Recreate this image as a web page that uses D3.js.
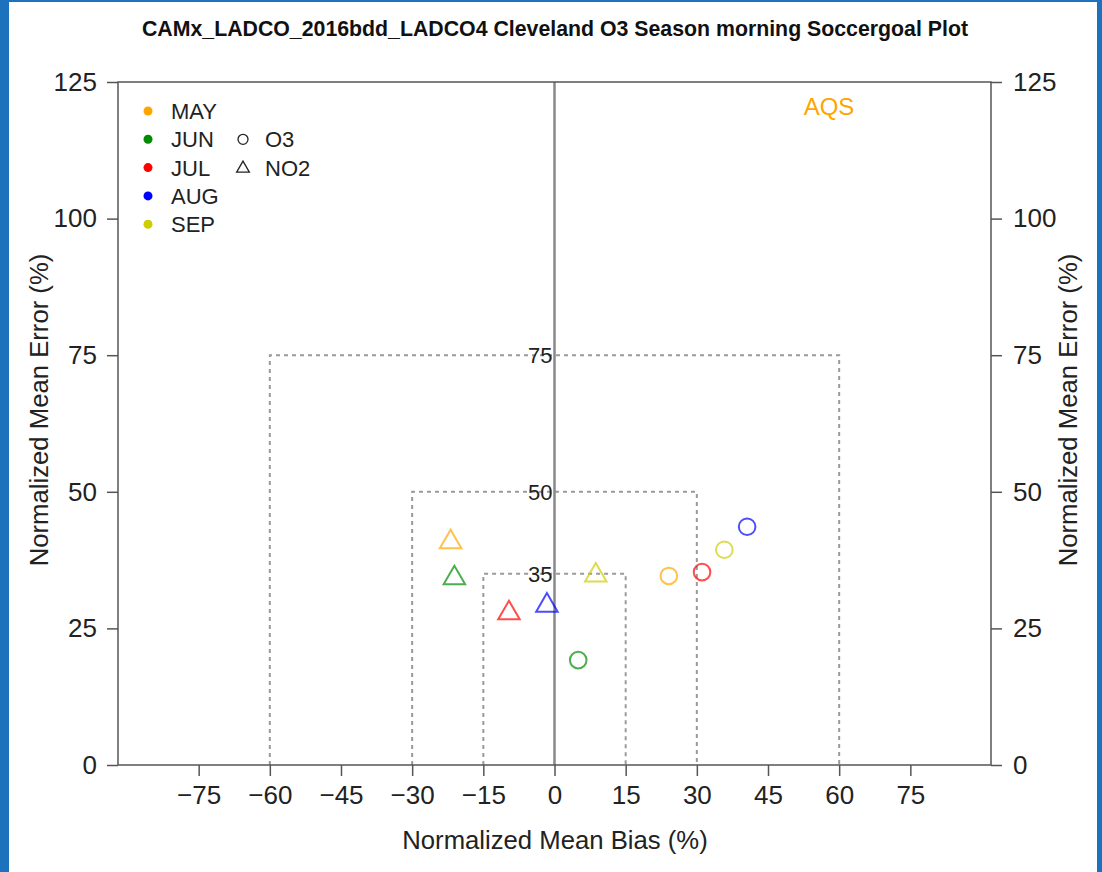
<!DOCTYPE html>
<html>
<head>
<meta charset="utf-8">
<script src="https://d3js.org/d3.v7.min.js"></script>
<style>
  body { margin: 0; background: #fff; }
  text { font-family: "Liberation Sans", Arial, sans-serif; }
</style>
</head>
<body>
<div id="chart"></div>
<script>
// months and colours
var months = ["MAY", "JUN", "JUL", "AUG", "SEP"];
var monthColors = ["#FFA500", "#008B00", "#FF0000", "#0000FF", "#CDCD00"];

// O3 (circles) and NO2 (triangles) per month
var o3Bias  = [24.1, 5.0, 31.1, 40.6, 35.8];
var o3Error = [34.6, 19.2, 35.3, 43.6, 39.4];
var no2Bias  = [-21.9, -21.1, -9.6, -1.6, 8.7];
var no2Error = [40.8, 34.2, 27.8, 29.2, 34.7];

// soccer goals
var goalError = [75, 50, 35];
var goalBias  = [60, 30, 15];

var xTicks = [-75, -60, -45, -30, -15, 0, 15, 30, 45, 60, 75];
var yTicks = [0, 25, 50, 75, 100, 125];

var species = ["O3", "NO2"];

function init() {
  var w = 1102, h = 872;
  var left = 118, right = 991, top = 82, bottom = 765;

  var svg = d3.select("#chart").append("svg")
    .attr("width", w)
    .attr("height", h);

  // blue frame of the screenshot
  svg.append("rect").attr("x", 0).attr("y", 0).attr("width", 9).attr("height", h).attr("fill", "#1c72bd");
  svg.append("rect").attr("x", 1097).attr("y", 0).attr("width", 5).attr("height", h).attr("fill", "#1c72bd");
  svg.append("rect").attr("x", 0).attr("y", 0).attr("width", w).attr("height", 2).attr("fill", "#1c72bd");

  var x = d3.scaleLinear().domain([-92, 92]).range([left, right]);
  var y = d3.scaleLinear().domain([0, 125]).range([bottom, top]);

  // title
  svg.append("text")
    .attr("x", 555).attr("y", 36)
    .attr("text-anchor", "middle")
    .attr("font-size", "21.3px")
    .attr("font-weight", "bold")
    .attr("fill", "#111")
    .text("CAMx_LADCO_2016bdd_LADCO4 Cleveland O3 Season morning Soccergoal Plot");

  // goals (dashed boxes)
  for (var i = 0; i < goalError.length; i++) {
    svg.append("path")
      .attr("d", "M" + x(-goalBias[i]) + "," + y(0) +
                 "V" + y(goalError[i]) +
                 "H" + x(goalBias[i]) +
                 "V" + y(0))
      .attr("fill", "none")
      .attr("stroke", "#9a9a9a")
      .attr("stroke-width", 2)
      .attr("stroke-dasharray", "4,4");
    svg.append("text")
      .attr("x", x(0) - 2)
      .attr("y", y(goalError[i]) + 8)
      .attr("text-anchor", "end")
      .attr("font-size", "22px")
      .attr("fill", "#222")
      .text(goalError[i]);
  }

  // centre line
  svg.append("line")
    .attr("x1", x(0)).attr("x2", x(0))
    .attr("y1", y(0)).attr("y2", y(125))
    .attr("stroke", "#888")
    .attr("stroke-width", 2.5);

  // axes
  var axisColor = "#555";
  var gx = svg.append("g").attr("transform", "translate(0," + bottom + ")")
    .call(d3.axisBottom(x).tickValues(xTicks).tickSize(11).tickPadding(7)
      .tickFormat(function(d) { return d < 0 ? "\u2212" + Math.abs(d) : d; }));
  var gl = svg.append("g").attr("transform", "translate(" + left + ",0)")
    .call(d3.axisLeft(y).tickValues(yTicks).tickSize(11).tickPadding(10));
  var gr = svg.append("g").attr("transform", "translate(" + right + ",0)")
    .call(d3.axisRight(y).tickValues(yTicks).tickSize(11).tickPadding(11));
  [gx, gl, gr].forEach(function(g) {
    g.select(".domain").remove();
    g.selectAll("line").attr("stroke", axisColor).attr("stroke-width", 1.5);
    g.selectAll("text").attr("font-size", "26px").attr("fill", "#222")
      .attr("font-family", "Liberation Sans, Arial, sans-serif");
  });
  gx.selectAll("text").attr("dy", "0.8em");

  svg.append("rect")
    .attr("x", left).attr("y", top)
    .attr("width", right - left).attr("height", bottom - top)
    .attr("fill", "none")
    .attr("stroke", axisColor)
    .attr("stroke-width", 1.5);

  // axis titles
  svg.append("text")
    .attr("x", 555).attr("y", 849)
    .attr("text-anchor", "middle")
    .attr("font-size", "25.7px").attr("fill", "#222")
    .text("Normalized Mean Bias (%)");
  svg.append("text")
    .attr("transform", "translate(48," + 410 + ") rotate(-90)")
    .attr("text-anchor", "middle")
    .attr("font-size", "25.7px").attr("fill", "#222")
    .text("Normalized Mean Error (%)");
  svg.append("text")
    .attr("transform", "translate(1077," + 410 + ") rotate(-90)")
    .attr("text-anchor", "middle")
    .attr("font-size", "25.7px").attr("fill", "#222")
    .text("Normalized Mean Error (%)");

  // network label
  svg.append("text")
    .attr("x", 829).attr("y", 115)
    .attr("text-anchor", "middle")
    .attr("font-size", "24px")
    .attr("fill", "#FFA500")
    .text("AQS");

  // O3 circles
  svg.selectAll("circle.o3")
    .data(months)
    .enter()
    .append("circle")
    .attr("class", "o3")
    .attr("cx", function(d, i) { return x(o3Bias[i]); })
    .attr("cy", function(d, i) { return y(o3Error[i]); })
    .attr("r", 8.3)
    .attr("fill", "none")
    .attr("stroke", function(d, i) { return monthColors[i]; })
    .attr("stroke-opacity", 0.7)
    .attr("stroke-width", 2);

  // NO2 triangles
  var tri = d3.symbol().type(d3.symbolTriangle).size(200);
  svg.selectAll("path.no2")
    .data(months)
    .enter()
    .append("path")
    .attr("class", "no2")
    .attr("d", tri)
    .attr("transform", function(d, i) {
      return "translate(" + x(no2Bias[i]) + "," + y(no2Error[i]) + ")";
    })
    .attr("fill", "none")
    .attr("stroke", function(d, i) { return monthColors[i]; })
    .attr("stroke-opacity", 0.7)
    .attr("stroke-width", 2);

  // legend: months
  var leg = svg.append("g");
  leg.selectAll("circle")
    .data(months)
    .enter()
    .append("circle")
    .attr("cx", 148)
    .attr("cy", function(d, i) { return 111 + i * 28.3; })
    .attr("r", 4.5)
    .attr("fill", function(d, i) { return monthColors[i]; });
  leg.selectAll("text")
    .data(months)
    .enter()
    .append("text")
    .attr("x", 171)
    .attr("y", function(d, i) { return 111 + i * 28.3 + 8; })
    .attr("font-size", "22px")
    .attr("fill", "#222")
    .text(function(d) { return d; });

  // legend: species
  svg.append("circle")
    .attr("cx", 243).attr("cy", 139.3).attr("r", 5)
    .attr("fill", "none").attr("stroke", "#222").attr("stroke-width", 1.3);
  svg.append("path")
    .attr("d", d3.symbol().type(d3.symbolTriangle).size(70))
    .attr("transform", "translate(243,168.5)")
    .attr("fill", "none").attr("stroke", "#222").attr("stroke-width", 1.3);
  svg.selectAll("text.sp")
    .data(species)
    .enter()
    .append("text")
    .attr("class", "sp")
    .attr("x", 265)
    .attr("y", function(d, i) { return 139.3 + i * 28.3 + 8; })
    .attr("font-size", "22px")
    .attr("fill", "#222")
    .text(function(d) { return d; });
}
window.onload = init;
</script>
</body>
</html>
